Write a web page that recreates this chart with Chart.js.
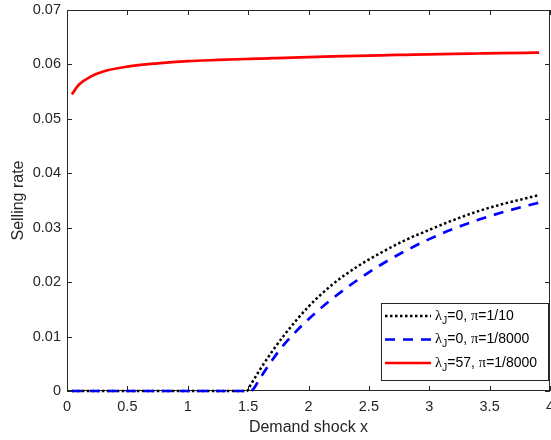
<!DOCTYPE html>
<html>
<head>
<meta charset="utf-8">
<script src="https://cdn.jsdelivr.net/npm/chart.js@4.4.1/dist/chart.umd.min.js"></script>
<style>
  html, body { margin: 0; padding: 0; background: #fff; }
  #wrap { width: 551px; height: 440px; }
</style>
</head>
<body>
<div id="wrap"><canvas id="myChart" width="551" height="440"></canvas></div>
<script>
// Demand shock values (x) shared by all three curves
const demandShock = [0.04, 0.1, 0.2, 0.3, 0.5, 0.75, 1, 1.25, 1.49, 1.52, 1.6, 1.7, 1.8, 2.0, 2.2, 2.4, 2.6, 2.8, 3.0, 3.2, 3.4, 3.6, 3.8, 3.91];

// lambda_J = 0, pi = 1/10
const rateBlack = [0, 0, 0, 0, 0, 0, 0, 0, 0, 0.0011, 0.0040, 0.0073, 0.0103, 0.0155, 0.0196, 0.0228, 0.0254, 0.0277, 0.0296, 0.0314, 0.0330, 0.0343, 0.0354, 0.0360];
// lambda_J = 0, pi = 1/8000
const rateBlue = [0, 0, 0, 0, 0, 0, 0, 0, 0, 0, 0.0024, 0.0057, 0.0086, 0.0132, 0.0170, 0.0203, 0.0232, 0.0257, 0.0279, 0.0298, 0.0314, 0.0328, 0.0340, 0.0346];
// lambda_J = 57, pi = 1/8000
const rateRed = [0.0545, 0.0563, 0.0578, 0.0587, 0.0596, 0.0602, 0.0606, 0.06082, 0.06100, 0.06102, 0.06108, 0.06115, 0.06122, 0.06135, 0.06147, 0.06158, 0.06168, 0.06177, 0.06186, 0.06194, 0.06201, 0.06208, 0.06214, 0.06217];

const seriesLabels = ['λ_J=0, π=1/10', 'λ_J=0, π=1/8000', 'λ_J=57, π=1/8000'];

const toPoints = ys => demandShock.map((x, i) => ({ x: x, y: ys[i] }));

const axisColor = '#262626';
const sans = '"Liberation Sans", Arial, Helvetica, sans-serif';
const serif = '"Liberation Serif", "Times New Roman", serif';

Chart.defaults.font.family = sans;
Chart.defaults.color = axisColor;

// box round the plot with inward ticks on all four sides, like MATLAB
const boxTicks = {
  id: 'boxTicks',
  beforeDatasetsDraw(chart) {
    const { ctx, chartArea: a, scales: { x, y } } = chart;
    ctx.save();
    ctx.strokeStyle = axisColor;
    ctx.lineWidth = 1;
    ctx.setLineDash([]);
    ctx.strokeRect(a.left + 0.5, a.top + 0.5, a.right - a.left - 1, a.bottom - a.top - 1);
    ctx.beginPath();
    x.ticks.forEach(t => {
      const px = Math.round(x.getPixelForValue(t.value)) + 0.5;
      ctx.moveTo(px, a.bottom); ctx.lineTo(px, a.bottom - 5);
      ctx.moveTo(px, a.top); ctx.lineTo(px, a.top + 5);
    });
    y.ticks.forEach(t => {
      const py = Math.round(y.getPixelForValue(t.value)) + 0.5;
      ctx.moveTo(a.left, py); ctx.lineTo(a.left + 5, py);
      ctx.moveTo(a.right, py); ctx.lineTo(a.right - 5, py);
    });
    ctx.stroke();
    ctx.restore();
  }
};

// legend box with TeX-like labels (lambda with subscript J)
const texLegend = {
  id: 'texLegend',
  afterDraw(chart) {
    const { ctx, chartArea: a } = chart;
    const w = 167, h = 77;
    const bx = a.right - 2 - w, by = a.bottom - 11 - h;
    ctx.save();
    ctx.fillStyle = '#fff';
    ctx.fillRect(bx, by, w, h);
    ctx.strokeStyle = axisColor;
    ctx.lineWidth = 1;
    ctx.setLineDash([]);
    ctx.strokeRect(Math.round(bx) + 0.5, Math.round(by) + 0.5, w, h);

    chart.data.datasets.forEach((ds, i) => {
      const ry = by + 13 + i * 23.5;
      ctx.beginPath();
      ctx.strokeStyle = ds.borderColor;
      ctx.lineWidth = ds.borderWidth;
      ctx.setLineDash(ds.borderDash || []);
      ctx.moveTo(bx + 4, ry);
      ctx.lineTo(bx + 50, ry);
      ctx.stroke();
      ctx.setLineDash([]);

      // split "λ_J=0, π=1/10" into pieces
      let tx = bx + 54;
      const label = seriesLabels[i];
      ctx.fillStyle = '#000';
      ctx.textBaseline = 'middle';
      for (let k = 0; k < label.length; k++) {
        const ch = label[k];
        if (ch === '_') {
          k++;
          ctx.font = '10.5px ' + sans;
          ctx.fillText(label[k], tx, ry + 5);
          tx += ctx.measureText(label[k]).width;
          continue;
        }
        ctx.font = (ch === 'λ' || ch === 'π') ? '14.5px ' + serif : '14px ' + sans;
        ctx.fillText(ch, tx, ry);
        tx += ctx.measureText(ch).width;
      }
    });
    ctx.restore();
  }
};

const config = {
  type: 'line',
  data: {
    datasets: [{
      label: seriesLabels[0],
      data: toPoints(rateBlack),
      borderColor: '#000000',
      borderWidth: 2.5,
      borderDash: [2.5, 2.5],
      order: 3
    }, {
      label: seriesLabels[1],
      data: toPoints(rateBlue),
      borderColor: '#0000ff',
      borderWidth: 2.7,
      borderDash: [10, 8],
      order: 2
    }, {
      label: seriesLabels[2],
      data: toPoints(rateRed),
      borderColor: '#ff0000',
      borderWidth: 2.7,
      order: 1
    }]
  },
  options: {
    responsive: false,
    animation: false,
    layout: { padding: { left: 0, right: 1, top: 10, bottom: 0 } },
    elements: {
      point: { radius: 0 },
      line: { cubicInterpolationMode: 'monotone', fill: false }
    },
    datasets: { line: { clip: false } },
    plugins: {
      legend: { display: false },
      tooltip: { enabled: false }
    },
    scales: {
      x: {
        type: 'linear',
        min: 0,
        max: 4,
        grid: { display: false, drawTicks: false },
        border: { display: false },
        ticks: {
          stepSize: 0.5,
          padding: 7,
          autoSkip: false,
          maxRotation: 0,
          color: axisColor,
          font: { size: 14.5 },
          callback: v => String(+v.toFixed(2))
        },
        title: {
          display: true,
          text: 'Demand shock x',
          color: axisColor,
          font: { size: 16 },
          padding: { top: 0, bottom: 3 }
        },
        afterFit(s) { s.height = 49; s.paddingLeft = 0; s.paddingRight = 0; }
      },
      y: {
        min: 0,
        max: 0.07,
        grid: { display: false, drawTicks: false },
        border: { display: false },
        ticks: {
          stepSize: 0.01,
          padding: 6,
          color: axisColor,
          font: { size: 14.5 },
          callback: v => v === 0 ? '0' : v.toFixed(2)
        },
        title: {
          display: true,
          text: 'Selling rate',
          color: axisColor,
          font: { size: 16 },
          padding: { top: 9, bottom: 0 }
        },
        afterFit(s) { s.width = 67; s.paddingTop = 0; s.paddingBottom = 0; }
      }
    }
  },
  plugins: [boxTicks, texLegend]
};

const myChart = new Chart(document.getElementById('myChart'), config);
</script>
</body>
</html>
